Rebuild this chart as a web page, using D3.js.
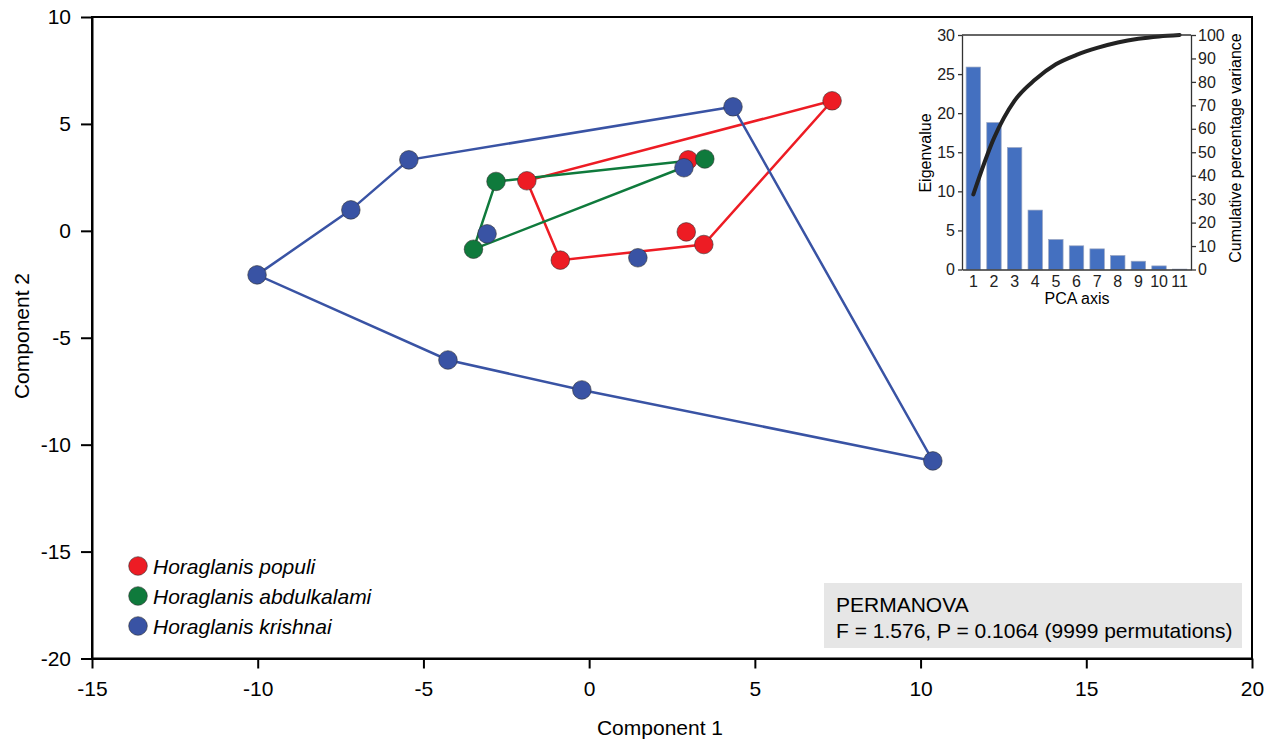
<!DOCTYPE html>
<html>
<head>
<meta charset="utf-8">
<script src="https://cdn.jsdelivr.net/npm/d3@7.9.0/dist/d3.min.js"></script>
<style>
  body { margin: 0; background: #fff; }
  svg { display: block; font-family: Arial, "Liberation Sans", sans-serif; }
</style>
</head>
<body>
<svg width="1274" height="740"></svg>
<script>
// species and colours
const species = ['Horaglanis populi', 'Horaglanis abdulkalami', 'Horaglanis krishnai'];
const speciesColors = ['#ed1c24', '#0f7a3c', '#3953a4'];

// PCA scores (component 1, component 2), hull vertices listed first
const populiX = [7.33, -1.88, -0.87, 3.46, 2.99, 2.93];
const populiY = [6.08, 2.34, -1.37, -0.64, 3.32, -0.05];
const populiHull = [0, 1, 2, 3];

const abdulX = [3.49, -2.81, -3.49];
const abdulY = [3.36, 2.31, -0.86];
const abdulHull = [0, 1, 2];

const krishX = [4.34, -5.44, -7.19, -10.02, -4.26, -0.22, 10.37, -3.08, 1.47, 2.86];
const krishY = [5.80, 3.32, 0.98, -2.06, -6.04, -7.44, -10.76, -0.14, -1.26, 2.95];
const krishHull = [0, 1, 2, 3, 4, 5, 6];

const xTicks = [-15, -10, -5, 0, 5, 10, 15, 20];
const yTicks = [-20, -15, -10, -5, 0, 5, 10];

// inset: eigenvalues per PCA axis and cumulative percentage variance
const pcaAxes = [1, 2, 3, 4, 5, 6, 7, 8, 9, 10, 11];
const eigenvalues = [25.9, 18.8, 15.6, 7.6, 3.84, 3.03, 2.64, 1.79, 1.06, 0.46, 0.05];
const cumVariance = [32, 56, 72, 81, 87.5, 91.5, 94.5, 96.8, 98.4, 99.4, 100];
const eigenTicks = [0, 5, 10, 15, 20, 25, 30];
const cumTicks = [0, 10, 20, 30, 40, 50, 60, 70, 80, 90, 100];

const groups = [
  { name: species[0], color: speciesColors[0], xs: populiX, ys: populiY, hull: populiHull },
  { name: species[1], color: speciesColors[1], xs: abdulX, ys: abdulY, hull: abdulHull },
  { name: species[2], color: speciesColors[2], xs: krishX, ys: krishY, hull: krishHull },
];

const svg = d3.select('svg');
const mLeft = 92, mRight = 1252, mTop = 17, mBottom = 658.5;
const plain = (d) => String(d);

let x = d3.scaleLinear().domain([-15, 20]).range([mLeft, mRight]);
let y = d3.scaleLinear().domain([-20, 10]).range([mBottom, mTop]);

// frame
svg.append('rect')
  .attr('x', mLeft).attr('y', mTop)
  .attr('width', mRight - mLeft).attr('height', mBottom - mTop)
  .attr('fill', 'none').attr('stroke', '#000').attr('stroke-width', 2);

let xAxis = svg.append('g')
  .attr('transform', `translate(0,${mBottom})`)
  .call(d3.axisBottom(x).tickValues(xTicks).tickFormat(plain).tickSize(10).tickPadding(13).tickSizeOuter(0));
let yAxis = svg.append('g')
  .attr('transform', `translate(${mLeft},0)`)
  .call(d3.axisLeft(y).tickValues(yTicks).tickFormat(plain).tickSize(11).tickPadding(10).tickSizeOuter(0));
[xAxis, yAxis].forEach((g) => {
  g.select('.domain').attr('stroke-width', 2);
  g.selectAll('.tick line').attr('stroke-width', 2);
  g.selectAll('.tick text').attr('font-size', 21).attr('font-family', 'Arial, "Liberation Sans", sans-serif').attr('fill', '#000');
});

svg.append('text')
  .attr('x', 660).attr('y', 735)
  .attr('text-anchor', 'middle').attr('font-size', 21)
  .text('Component 1');
svg.append('text')
  .attr('transform', 'translate(29,336) rotate(-90)')
  .attr('text-anchor', 'middle').attr('font-size', 21)
  .text('Component 2');

// hull outlines
groups.forEach((g) => {
  let pts = g.hull.map((i) => [x(g.xs[i]), y(g.ys[i])]);
  svg.append('path')
    .attr('d', d3.line().curve(d3.curveLinearClosed)(pts))
    .attr('fill', 'none')
    .attr('stroke', g.color)
    .attr('stroke-width', 2.5);
});

// points
groups.forEach((g) => {
  svg.append('g').selectAll('circle')
    .data(g.xs.map((v, i) => [v, g.ys[i]]))
    .join('circle')
    .attr('cx', (d) => x(d[0]))
    .attr('cy', (d) => y(d[1]))
    .attr('r', 9.3)
    .attr('fill', g.color)
    .attr('stroke', '#333')
    .attr('stroke-width', 0.6);
});

// legend
let legend = svg.append('g');
species.forEach((s, idx) => {
  let ly = 566 + idx * 30;
  legend.append('circle')
    .attr('cx', 138).attr('cy', ly).attr('r', 9.3)
    .attr('fill', speciesColors[idx]).attr('stroke', '#333').attr('stroke-width', 0.6);
  legend.append('text')
    .attr('x', 153).attr('y', ly + 7.5)
    .attr('font-size', 21).attr('font-style', 'italic')
    .text(s);
});

// PERMANOVA box
svg.append('rect')
  .attr('x', 824).attr('y', 583)
  .attr('width', 418).attr('height', 65)
  .attr('fill', '#e6e6e6');
svg.append('text')
  .attr('x', 836).attr('y', 612).attr('font-size', 21)
  .text('PERMANOVA');
svg.append('text')
  .attr('x', 836).attr('y', 638).attr('font-size', 21)
  .text('F = 1.576, P = 0.1064 (9999 permutations)');

// inset scree plot
const iL = 962, iR = 1191, iT = 35, iB = 269.5;
let ix = d3.scaleBand().domain(pcaAxes).range([iL, iR]).paddingInner(0.3).paddingOuter(0.2);
let iy = d3.scaleLinear().domain([0, 30]).range([iB, iT]);
let iy2 = d3.scaleLinear().domain([0, 100]).range([iB, iT]);

let inset = svg.append('g');
inset.append('rect')
  .attr('x', iL).attr('y', iT).attr('width', iR - iL).attr('height', iB - iT)
  .attr('fill', '#fff');

inset.selectAll('rect.bar')
  .data(eigenvalues)
  .join('rect')
  .attr('class', 'bar')
  .attr('x', (d, i) => ix(pcaAxes[i]))
  .attr('y', (d) => iy(d))
  .attr('width', ix.bandwidth())
  .attr('height', (d) => iB - iy(d))
  .attr('fill', '#4470c0')
  .attr('stroke', '#9aa6c2')
  .attr('stroke-width', 0.7);

inset.append('path')
  .attr('d', d3.line()
    .x((d, i) => ix(pcaAxes[i]) + ix.bandwidth() / 2)
    .y((d) => iy2(d))
    .curve(d3.curveMonotoneX)(cumVariance))
  .attr('fill', 'none')
  .attr('stroke', '#222')
  .attr('stroke-width', 4)
  .attr('stroke-linecap', 'round');

inset.append('line')
  .attr('x1', iL).attr('x2', iR).attr('y1', iT).attr('y2', iT)
  .attr('stroke', '#333').attr('stroke-width', 1.3);

let ixAxis = inset.append('g')
  .attr('transform', `translate(0,${iB})`)
  .call(d3.axisBottom(ix).tickSize(0).tickPadding(6));
let iyAxis = inset.append('g')
  .attr('transform', `translate(${iL},0)`)
  .call(d3.axisLeft(iy).tickValues(eigenTicks).tickSize(4).tickPadding(3).tickSizeOuter(0));
let iy2Axis = inset.append('g')
  .attr('transform', `translate(${iR},0)`)
  .call(d3.axisRight(iy2).tickValues(cumTicks).tickSize(5).tickPadding(2).tickSizeOuter(0));
[ixAxis, iyAxis, iy2Axis].forEach((g) => {
  g.select('.domain').attr('stroke', '#333').attr('stroke-width', 1.3);
  g.selectAll('.tick line').attr('stroke', '#333').attr('stroke-width', 1.3);
  g.selectAll('.tick text').attr('font-size', 16).attr('font-family', 'Arial, "Liberation Sans", sans-serif').attr('fill', '#222');
});

inset.append('text')
  .attr('x', 1077).attr('y', 304)
  .attr('text-anchor', 'middle').attr('font-size', 16)
  .text('PCA axis');
inset.append('text')
  .attr('transform', 'translate(931,153) rotate(-90)')
  .attr('text-anchor', 'middle').attr('font-size', 16)
  .text('Eigenvalue');
inset.append('text')
  .attr('transform', 'translate(1241,148) rotate(-90)')
  .attr('text-anchor', 'middle').attr('font-size', 16)
  .text('Cumulative percentage variance');
</script>
</body>
</html>
